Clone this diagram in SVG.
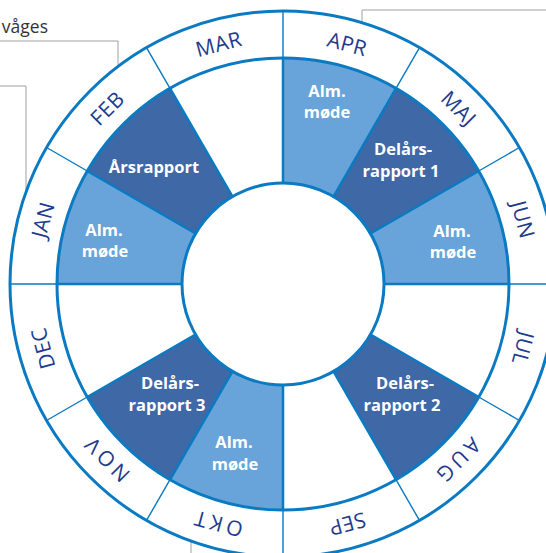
<svg xmlns="http://www.w3.org/2000/svg" width="546" height="553" viewBox="0 0 546 553">
  <style>
    .ring { fill: none; stroke: #0a7ac2; stroke-width: 3; }
    .div-in { stroke: #0a7ac2; stroke-width: 2.5; }
    .div-out { stroke: #0a7ac2; stroke-width: 1.4; }
    .light { fill: #68a4d9; }
    .dark { fill: #3f68a7; }
    .month { font-family: "Open Sans", "Liberation Sans", sans-serif; font-size: 21px; fill: #1f3b8d; text-anchor: middle; letter-spacing: 0.5px; }
    .wide { letter-spacing: 4px; }
    .seg { font-family: "Open Sans", "Liberation Sans", sans-serif; font-size: 16.5px; font-weight: bold; fill: #ffffff; text-anchor: middle; }
    .callout { fill: none; stroke: #a0a0a0; stroke-width: 1; }
    .note { font-family: "Open Sans", "Liberation Sans", sans-serif; font-size: 17.5px; fill: #333333; }
  </style>

  <rect width="546" height="553" fill="#ffffff"/>

  <!-- callout leader lines -->
  <g id="connectors">
    <path class="callout" d="M0,41 H118 V66"/>
    <path class="callout" d="M0,86 H26 V192"/>
    <path class="callout" d="M546,10 H362 V23"/>
    <path class="callout" d="M191,541 V553"/>
  </g>
  <text class="note" x="48" y="33" text-anchor="end">våges</text>

  <!-- wheel: one sector per month -->
  <g id="mar">
    <text class="month" transform="rotate(-15 283 284)" x="283" y="43">MAR</text>
  </g>
  <g id="apr">
    <path class="light" d="M396,88.28 A226,226 0 0 0 283,58 L283,183 A101,101 0 0 1 333.5,196.53 Z"/>
    <text class="month" transform="rotate(15 283 284)" x="283" y="43">APR</text>
    <text class="seg" x="327" y="97">Alm.</text>
    <text class="seg" x="327" y="118">møde</text>
  </g>
  <g id="maj">
    <path class="dark" d="M478.72,171 A226,226 0 0 0 396,88.28 L333.5,196.53 A101,101 0 0 1 370.47,233.5 Z"/>
    <text class="month" transform="rotate(45 283 284)" x="283" y="43">MAJ</text>
    <text class="seg" x="403" y="155">Delårs-</text>
    <text class="seg" x="401" y="177">rapport 1</text>
  </g>
  <g id="jun">
    <path class="light" d="M509,284 A226,226 0 0 0 478.72,171 L370.47,233.5 A101,101 0 0 1 384,284 Z"/>
    <text class="month" transform="rotate(75 283 284)" x="283" y="43">JUN</text>
    <text class="seg" x="452" y="237">Alm.</text>
    <text class="seg" x="453" y="258">møde</text>
  </g>
  <g id="jul">
    <text class="month" transform="rotate(105 283 284)" x="283" y="43">JUL</text>
  </g>
  <g id="aug">
    <path class="dark" d="M396,479.72 A226,226 0 0 0 478.72,397 L370.47,334.5 A101,101 0 0 1 333.5,371.47 Z"/>
    <text class="month wide" transform="rotate(135 283 284)" x="285" y="43">AUG</text>
    <text class="seg" x="405" y="389">Delårs-</text>
    <text class="seg" x="402" y="411">rapport 2</text>
  </g>
  <g id="sep">
    <text class="month" transform="rotate(165 283 284)" x="283" y="43">SEP</text>
  </g>
  <g id="okt">
    <path class="light" d="M170,479.72 A226,226 0 0 0 283,510 L283,385 A101,101 0 0 1 232.5,371.47 Z"/>
    <text class="month wide" transform="rotate(195 283 284)" x="285" y="43">OKT</text>
    <text class="seg" x="234" y="448">Alm.</text>
    <text class="seg" x="235" y="470">møde</text>
  </g>
  <g id="nov">
    <path class="dark" d="M87.28,397 A226,226 0 0 0 170,479.72 L232.5,371.47 A101,101 0 0 1 195.53,334.5 Z"/>
    <text class="month wide" transform="rotate(225 283 284)" x="285" y="43">NOV</text>
    <text class="seg" x="170" y="389">Delårs-</text>
    <text class="seg" x="167" y="411">rapport 3</text>
  </g>
  <g id="dec">
    <text class="month" transform="rotate(255 283 284)" x="283" y="43">DEC</text>
  </g>
  <g id="jan">
    <path class="light" d="M87.28,171 A226,226 0 0 0 57,284 L182,284 A101,101 0 0 1 195.53,233.5 Z"/>
    <text class="month" transform="rotate(285 283 284)" x="283" y="43">JAN</text>
    <text class="seg" x="104" y="236">Alm.</text>
    <text class="seg" x="105" y="257">møde</text>
  </g>
  <g id="feb">
    <path class="dark" d="M170,88.28 A226,226 0 0 0 87.28,171 L195.53,233.5 A101,101 0 0 1 232.5,196.53 Z"/>
    <text class="month" transform="rotate(315 283 284)" x="283" y="43">FEB</text>
    <text class="seg" x="154" y="173">Årsrapport</text>
  </g>

  <!-- month dividers: thick inside the sector band, thin across the label band -->
  <g id="dividers">
    <path class="div-in" d="M384,284 L509,284 M370.47,233.5 L478.72,171 M333.5,196.53 L396,88.28 M283,183 L283,58 M232.5,196.53 L170,88.28 M195.53,233.5 L87.28,171 M182,284 L57,284 M195.53,334.5 L87.28,397 M232.5,371.47 L170,479.72 M283,385 L283,510 M333.5,371.47 L396,479.72 M370.47,334.5 L478.72,397"/>
    <path class="div-out" d="M509,284 L556,284 M478.72,171 L519.42,147.5 M396,88.28 L419.5,47.58 M283,58 L283,11 M170,88.28 L146.5,47.58 M87.28,171 L46.58,147.5 M57,284 L10,284 M87.28,397 L46.58,420.5 M170,479.72 L146.5,520.42 M283,510 L283,557 M396,479.72 L419.5,520.42 M478.72,397 L519.42,420.5"/>
  </g>

  <!-- rings -->
  <circle class="ring" cx="283" cy="284" r="273"/>
  <circle class="ring" cx="283" cy="284" r="226"/>
  <circle class="ring" cx="283" cy="284" r="101" style="fill:#ffffff"/>
</svg>
